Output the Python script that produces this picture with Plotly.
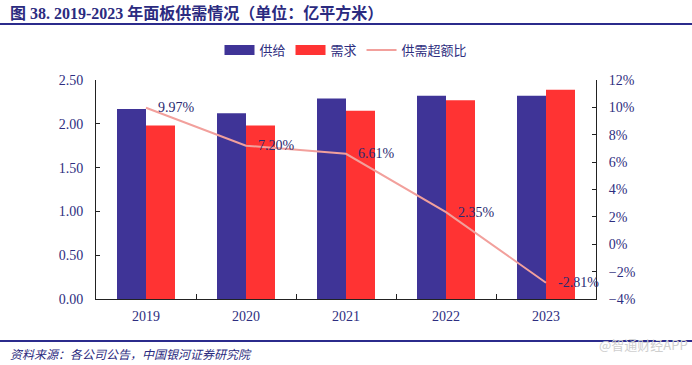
import plotly.graph_objects as go

years = ["2019", "2020", "2021", "2022", "2023"]
supply = [2.17, 2.12, 2.29, 2.32, 2.32]
demand = [1.98, 1.98, 2.15, 2.27, 2.39]
excess_pct = [9.97, 7.20, 6.61, 2.35, -2.81]
excess_labels = ["9.97%", "7.20%", "6.61%", "2.35%", "-2.81%"]

NAVY = "#2E2E80"
SUP_C = "#3F3497"
DEM_C = "#FF3333"
LINE_C = "#F2A09C"
SERIF = "Liberation Serif, Times New Roman, Noto Sans CJK SC, serif"
CJK = "Noto Sans CJK SC, sans-serif"

fig = go.Figure()
fig.add_trace(go.Bar(x=years, y=supply, name="供给", marker_color=SUP_C,
                     marker_line_width=0, showlegend=False))
fig.add_trace(go.Bar(x=years, y=demand, name="需求", marker_color=DEM_C,
                     marker_line_width=0, showlegend=False))
fig.add_trace(go.Scatter(x=years, y=excess_pct, name="供需超额比", yaxis="y2",
                         mode="lines", line=dict(color=LINE_C, width=2), showlegend=False))

# legend proxies (wide rectangles like the original)
fig.add_trace(go.Scatter(x=years[:1], y=[None], name="供给", mode="lines",
                         line=dict(color=SUP_C, width=10), hoverinfo="skip"))
fig.add_trace(go.Scatter(x=years[:1], y=[None], name="需求", mode="lines",
                         line=dict(color=DEM_C, width=10), hoverinfo="skip"))
fig.add_trace(go.Scatter(x=years[:1], y=[None], name="供需超额比", mode="lines",
                         line=dict(color=LINE_C, width=2), hoverinfo="skip"))

W, H = 692, 365
L, R, T, B = 96, 96, 80, 66
pw, ph = W - L - R, H - T - B

def px(x):
    return (x - L) / pw

def py(y):
    return (H - B - y) / ph

# category positions are indices on a category axis
annotations = [
    dict(text=lab, x=i, y=v, xref="x", yref="y2", xanchor="left", yanchor="middle",
         xshift=10, showarrow=False, font=dict(family=SERIF, size=14, color="#2A2A70"))
    for i, (v, lab) in enumerate(zip(excess_pct, excess_labels))
]
annotations += [
    dict(text="<b>图 38. 2019-2023 年面板供需情况（单位：亿平方米）</b>", xref="paper", yref="paper",
         x=px(8), y=py(13), xanchor="left", yanchor="middle", showarrow=False,
         font=dict(family="Liberation Serif, Noto Sans CJK SC, serif", size=16, color="#2B2B80")),
    dict(text="<i>资料来源：各公司公告，中国银河证券研究院</i>", xref="paper", yref="paper",
         x=px(8), y=py(353), xanchor="left", yanchor="middle", showarrow=False,
         font=dict(family=CJK, size=12, color="#2B2B80")),
    dict(text="@智通财经APP", xref="paper", yref="paper",
         x=px(690), y=py(344), xanchor="right", yanchor="middle", showarrow=False,
         font=dict(family=CJK, size=13, color="#CFCFCF")),
]

fig.update_layout(
    width=W, height=H,
    margin=dict(l=L, r=R, t=T, b=B),
    paper_bgcolor="white", plot_bgcolor="white",
    barmode="group", bargap=0.42, bargroupgap=0,
    font=dict(family=SERIF, size=14, color=NAVY),
    showlegend=True,
    legend=dict(orientation="h", x=0.5, xanchor="center", y=py(50), yanchor="middle",
                font=dict(family=CJK, size=13, color=NAVY), traceorder="normal",
                itemwidth=30, bgcolor="rgba(0,0,0,0)"),
    xaxis=dict(type="category", categoryorder="array", categoryarray=years,
               range=[-0.5, len(years) - 0.5],
               showline=True, linecolor="#222", linewidth=1,
               ticks="inside", ticklen=5, tickcolor="#222", tickson="boundaries",
               ticklabelstandoff=4,
               tickfont=dict(family=SERIF, size=14, color=NAVY), showgrid=False),
    yaxis=dict(range=[0, 2.5], dtick=0.5, tickformat=".2f", showline=True,
               linecolor="#222", linewidth=1, ticks="inside", ticklen=4, tickcolor="#222",
               showgrid=False, zeroline=False, ticklabelstandoff=9,
               tickfont=dict(family=SERIF, size=14, color=NAVY)),
    yaxis2=dict(range=[-4, 12], dtick=2, ticksuffix="%", overlaying="y", side="right",
                showline=True, linecolor="#222", linewidth=1, ticks="inside", ticklen=4,
                tickcolor="#222", showgrid=False, zeroline=False, ticklabelstandoff=9,
                tickfont=dict(family=SERIF, size=14, color=NAVY)),
    shapes=[
        dict(type="line", xref="paper", yref="paper", x0=px(0), x1=px(W), y0=py(24), y1=py(24),
             line=dict(color="#2B2B8C", width=2)),
        dict(type="line", xref="paper", yref="paper", x0=px(0), x1=px(W), y0=py(341), y1=py(341),
             line=dict(color="#2B2B8C", width=2)),
    ],
    annotations=annotations,
)

fig.write_html("out.html", config={"displayModeBar": False},
               post_script="document.body.style.margin='0px';")
